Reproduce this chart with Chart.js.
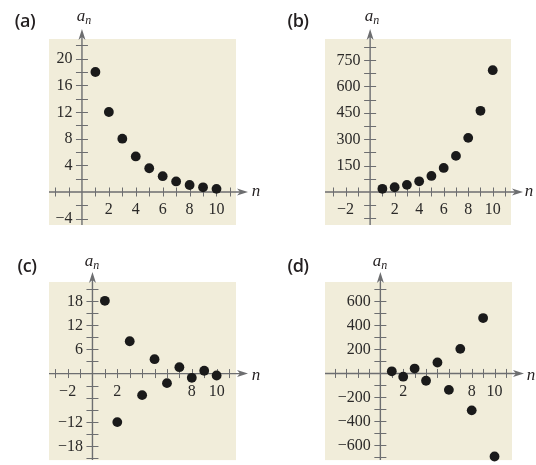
<!DOCTYPE html>
<html lang="en">
<head>
  <meta charset="UTF-8" />
  <title>Sequence plots</title>
  <script src="https://cdn.jsdelivr.net/npm/chart.js"></script>
  <style>
    body { margin: 0; background: #fff; width: 536px; height: 465px; position: relative; overflow: hidden; }
    .panel { position: absolute; }
    .panel canvas { position: absolute; left: 0; top: 0; }
    .txt { position: absolute; transform: translate(-50%, -50%); white-space: nowrap; color: #231f20; line-height: 1; }
    .tag { font-family: 'Open Sans', sans-serif; font-weight: 600; font-size: 18px; letter-spacing: -0.5px; }
    .ax { font-family: 'Liberation Serif', serif; font-style: italic; font-size: 17px; }
    .ax sub { font-size: 12px; vertical-align: -3px; }
  </style>
</head>
<body>

  <div class="panel" style="left:0;top:0;width:268px;height:232px">
    <canvas id="chartA" width="268" height="232"></canvas>
    <div class="txt tag" style="left:25px;top:20px">(a)</div>
    <div class="txt ax" style="left:84px;top:16px">a<sub>n</sub></div>
    <div class="txt ax" style="left:256px;top:190px">n</div>
  </div>
  <div class="panel" style="left:268px;top:0;width:268px;height:232px">
    <canvas id="chartB" width="268" height="232"></canvas>
    <div class="txt tag" style="left:30px;top:20px">(b)</div>
    <div class="txt ax" style="left:104px;top:16px">a<sub>n</sub></div>
    <div class="txt ax" style="left:261px;top:190px">n</div>
  </div>
  <div class="panel" style="left:0;top:232px;width:268px;height:233px">
    <canvas id="chartC" width="268" height="233"></canvas>
    <div class="txt tag" style="left:27px;top:33px">(c)</div>
    <div class="txt ax" style="left:92px;top:29px">a<sub>n</sub></div>
    <div class="txt ax" style="left:256px;top:142px">n</div>
  </div>
  <div class="panel" style="left:268px;top:232px;width:268px;height:233px">
    <canvas id="chartD" width="268" height="233"></canvas>
    <div class="txt tag" style="left:30px;top:33px">(d)</div>
    <div class="txt ax" style="left:112px;top:29px">a<sub>n</sub></div>
    <div class="txt ax" style="left:263px;top:142px">n</div>
  </div>

  <script>
    // n = 1..10
    const nValues = [1, 2, 3, 4, 5, 6, 7, 8, 9, 10];

    // values
    const valuesA = [18, 12, 8, 5.33, 3.56, 2.37, 1.58, 1.05, 0.7, 0.47];
    const valuesB = [18, 27, 40.5, 60.75, 91.1, 136.7, 205, 307.5, 461.3, 692];
    const valuesC = [18, -12, 8, -5.33, 3.56, -2.37, 1.58, -1.05, 0.7, -0.47];
    const valuesD = [18, -27, 40.5, -60.75, 91.1, -136.7, 205, -307.5, 461.3, -692];

    // tick labels shown on each plot
    const xLabelsA = [2, 4, 6, 8, 10];
    const yLabelsA = [20, 16, 12, 8, 4, -4];
    const xLabelsB = [-2, 2, 4, 6, 8, 10];
    const yLabelsB = [750, 600, 450, 300, 150];
    const xLabelsC = [-2, 2, 8, 10];
    const yLabelsC = [18, 12, 6, -12, -18];
    const xLabelsD = [2, 8, 10];
    const yLabelsD = [600, 400, 200, -200, -400, -600];

    // minor tick steps on the y axes
    const yStepA = 2, yStepB = 75, yStepC = 3, yStepD = 100;

    const AXIS = '#6d6e70';
    const BG = '#f1edda';

    function fmt(v) {
      return v < 0 ? '\u2212' + Math.abs(v) : String(v);
    }

    function arrow(ctx, x, y, dir) {
      // dir: 'right' or 'up'
      ctx.beginPath();
      if (dir === 'right') {
        ctx.moveTo(x, y);
        ctx.lineTo(x - 11, y - 3.5);
        ctx.lineTo(x - 8, y);
        ctx.lineTo(x - 11, y + 3.5);
      } else {
        ctx.moveTo(x, y);
        ctx.lineTo(x - 3.5, y + 11);
        ctx.lineTo(x, y + 8);
        ctx.lineTo(x + 3.5, y + 11);
      }
      ctx.closePath();
      ctx.fill();
    }

    const crossAxes = {
      id: 'crossAxes',
      beforeDatasetsDraw(chart, args, opts) {
        const { ctx, chartArea: a, scales: { x, y } } = chart;
        const x0 = x.getPixelForValue(0);
        const y0 = y.getPixelForValue(0);
        ctx.save();
        ctx.fillStyle = BG;
        ctx.fillRect(a.left, a.top, a.right - a.left, a.bottom - a.top);

        ctx.strokeStyle = AXIS;
        ctx.fillStyle = AXIS;

        // minor ticks
        ctx.lineWidth = 1;
        ctx.beginPath();
        for (let v = Math.ceil(x.min); v <= Math.floor(x.max); v++) {
          if (v === 0) continue;
          const px = Math.round(x.getPixelForValue(v)) + 0.5;
          ctx.moveTo(px, y0 - 4.5);
          ctx.lineTo(px, y0 + 4.5);
        }
        const s = opts.yStep;
        for (let v = Math.ceil(y.min / s) * s; v <= y.max; v += s) {
          if (Math.abs(v) < 1e-9) continue;
          const py = Math.round(y.getPixelForValue(v)) + 0.5;
          ctx.moveTo(x0 - 6, py);
          ctx.lineTo(x0 + 6, py);
        }
        ctx.stroke();

        // axis lines
        ctx.lineWidth = 1.4;
        ctx.beginPath();
        ctx.moveTo(a.left, y0);
        ctx.lineTo(a.right + 6, y0);
        ctx.moveTo(x0, a.bottom);
        ctx.lineTo(x0, a.top - 4);
        ctx.stroke();
        arrow(ctx, a.right + 12, y0, 'right');
        arrow(ctx, x0, a.top - 10, 'up');

        // tick labels
        ctx.fillStyle = '#2b2a29';
        ctx.font = '16px "Liberation Serif", serif';
        ctx.textAlign = 'center';
        ctx.textBaseline = 'middle';
        opts.xLabels.forEach(v => {
          ctx.fillText(fmt(v), x.getPixelForValue(v), y0 + 18);
        });
        ctx.textAlign = 'right';
        opts.yLabels.forEach(v => {
          ctx.fillText(fmt(v), x0 - 9.5, y.getPixelForValue(v) + 0.5);
        });
        ctx.restore();
      }
    };

    function makeChart(id, values, xRange, yRange, pad, xLabels, yLabels, yStep) {
      return new Chart(document.getElementById(id), {
        type: 'scatter',
        data: {
          datasets: [{
            data: nValues.map((n, i) => ({ x: n, y: values[i] })),
            backgroundColor: '#1a1a1a',
            borderWidth: 0,
            pointRadius: 4.9,
            clip: 6
          }]
        },
        options: {
          responsive: false,
          animation: false,
          layout: { padding: pad },
          plugins: {
            legend: { display: false },
            tooltip: { enabled: false },
            crossAxes: { xLabels: xLabels, yLabels: yLabels, yStep: yStep }
          },
          scales: {
            x: { type: 'linear', min: xRange[0], max: xRange[1], display: false },
            y: { type: 'linear', min: yRange[0], max: yRange[1], display: false }
          }
        },
        plugins: [crossAxes]
      });
    }

    makeChart('chartA', valuesA, [-2.45, 11.45], [-4.95, 22.95],
      { left: 49, top: 39, right: 32, bottom: 7 }, xLabelsA, yLabelsA, yStepA);
    makeChart('chartB', valuesB, [-3.68, 11.49], [-187.5, 869],
      { left: 57, top: 39, right: 25, bottom: 7 }, xLabelsB, yLabelsB, yStepB);
    makeChart('chartC', valuesC, [-3.5, 11.56], [-21.4, 22.65],
      { left: 49, top: 50, right: 32, bottom: 0 }, xLabelsC, yLabelsC, yStepC);
    makeChart('chartD', valuesD, [-4.85, 11.53], [-722, 762],
      { left: 57, top: 50, right: 24, bottom: 0 }, xLabelsD, yLabelsD, yStepD);
  </script>

</body>
</html>
